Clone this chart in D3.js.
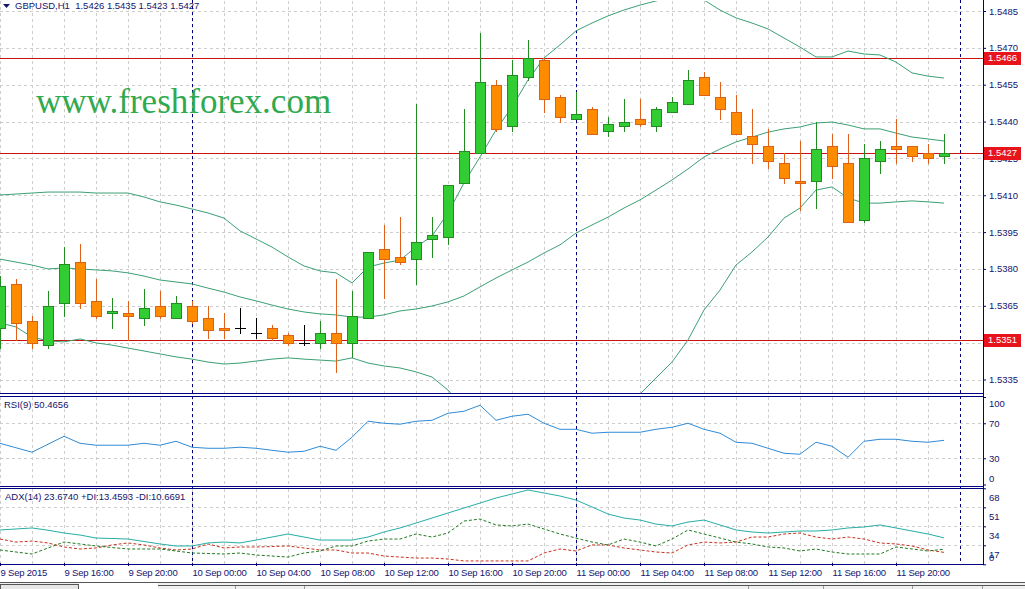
<!DOCTYPE html>
<html>
<head>
<meta charset="utf-8">
<script src="https://cdn.jsdelivr.net/npm/d3@7"></script>
<style>
  html, body { margin: 0; padding: 0; background: #fff; overflow: hidden; }
  svg { display: block; font-family: "Liberation Sans", Arial, sans-serif; }
</style>
</head>
<body>
<svg id="chart" width="1025" height="589"></svg>
<script>
// GBPUSD H1, one bar per hour starting 9 Sep 2015 12:00
const firstBar = Date.UTC(2015, 8, 9, 12);

const open = [1.5356,1.5374,1.5359,1.5349,1.5366,1.5383,1.5367,1.5362,1.5362,1.5360,
  1.5365,1.5360,1.5365,1.5360,1.5356,1.5356,1.5354,1.5356,1.5353,1.5350,
  1.5350,1.5354,1.5350,1.5360,1.5388,1.5385,1.5384,1.5392,1.5393,1.5415,
  1.5427,1.5455,1.5438,1.5458,1.5465,1.5450,1.5441,1.5445,1.5436,1.5438,
  1.5441,1.5438,1.5444,1.5447,1.5458,1.5450,1.5444,1.5434,1.5430,1.5423,
  1.5416,1.5416,1.5430,1.5423,1.5400,1.5424,1.5430,1.5430,1.5427,1.5426];
const high = [1.5377,1.5376,1.5361,1.5371,1.5389,1.5390,1.5376,1.5368,1.5367,1.5372,
  1.5371,1.5369,1.5367,1.5365,1.5362,1.5364,1.5360,1.5357,1.5354,1.5357,
  1.5359,1.5376,1.5371,1.5387,1.5398,1.5401,1.5447,1.5401,1.5414,1.5445,
  1.5476,1.5457,1.5465,1.5473,1.5466,1.5451,1.5452,1.5446,1.5442,1.5449,
  1.5449,1.5446,1.5450,1.5461,1.5460,1.5456,1.5451,1.5445,1.5437,1.5427,
  1.5432,1.5440,1.5435,1.5435,1.5431,1.5432,1.5441,1.5430,1.5431,1.5435];
const low = [1.5348,1.5351,1.5348,1.5348,1.5361,1.5364,1.5360,1.5356,1.5351,1.5357,
  1.5360,1.5360,1.5358,1.5352,1.5352,1.5354,1.5352,1.5351,1.5349,1.5349,
  1.5348,1.5338,1.5344,1.5360,1.5368,1.5382,1.5374,1.5385,1.5390,1.5415,
  1.5427,1.5436,1.5436,1.5457,1.5444,1.5440,1.5441,1.5435,1.5434,1.5436,
  1.5438,1.5436,1.5444,1.5447,1.5451,1.5441,1.5435,1.5423,1.5421,1.5415,
  1.5404,1.5405,1.5417,1.5399,1.5399,1.5419,1.5423,1.5424,1.5423,1.5423];
const close = [1.5373,1.5358,1.5350,1.5365,1.5382,1.5366,1.5361,1.5363,1.5361,1.5364,
  1.5361,1.5366,1.5359,1.5355,1.5355,1.5356,1.5354,1.5352,1.5350,1.5350,
  1.5354,1.5350,1.5361,1.5387,1.5384,1.5383,1.5391,1.5394,1.5414,1.5428,
  1.5456,1.5437,1.5459,1.5466,1.5449,1.5442,1.5443,1.5435,1.5439,1.5440,
  1.5439,1.5445,1.5448,1.5457,1.5451,1.5445,1.5435,1.5431,1.5424,1.5417,
  1.5415,1.5429,1.5422,1.5399,1.5425,1.5429,1.5429,1.5426,1.5425,1.5427];

// Bollinger bands
const bbUpper = [1.54101,1.54105,1.54109,1.54113,1.54113,1.54113,1.54109,1.54109,1.54109,1.54093,
  1.54073,1.54060,1.54044,1.54028,1.54007,1.53955,1.53922,1.53889,1.53849,1.53812,
  1.53792,1.53784,1.53743,1.53808,1.53824,1.53836,1.53889,1.53934,1.54028,1.54150,
  1.54256,1.54366,1.54459,1.54569,1.54659,1.54712,1.54769,1.54801,1.54830,1.54854,
  1.54874,1.54891,1.54903,1.54907,1.54895,1.54854,1.54822,1.54801,1.54777,1.54740,
  1.54703,1.54663,1.54663,1.54687,1.54675,1.54671,1.54642,1.54598,1.54585,1.54577];
const bbMiddle = [1.53840,1.53828,1.53816,1.53800,1.53804,1.53800,1.53796,1.53792,1.53784,1.53771,
  1.53755,1.53747,1.53739,1.53722,1.53706,1.53686,1.53670,1.53653,1.53637,1.53625,
  1.53617,1.53613,1.53604,1.53604,1.53613,1.53629,1.53637,1.53649,1.53666,1.53690,
  1.53727,1.53763,1.53796,1.53828,1.53865,1.53898,1.53946,1.53979,1.54011,1.54048,
  1.54081,1.54121,1.54162,1.54207,1.54256,1.54288,1.54317,1.54337,1.54357,1.54370,
  1.54378,1.54394,1.54398,1.54386,1.54370,1.54370,1.54353,1.54337,1.54329,1.54321];
const bbLower = [1.53580,1.53564,1.53523,1.53507,1.53503,1.53515,1.53499,1.53490,1.53478,1.53466,
  1.53454,1.53442,1.53433,1.53421,1.53413,1.53417,1.53425,1.53433,1.53438,1.53433,
  1.53429,1.53425,1.53438,1.53417,1.53405,1.53397,1.53381,1.53360,1.53307,1.53234,
  1.53197,1.53161,1.53132,1.53087,1.53071,1.53083,1.53124,1.53157,1.53193,1.53242,
  1.53291,1.53356,1.53421,1.53511,1.53633,1.53714,1.53816,1.53869,1.53930,1.54007,
  1.54048,1.54121,1.54134,1.54089,1.54068,1.54068,1.54073,1.54077,1.54073,1.54068];

const rsi = [47.1,42.0,36.9,46.0,55.1,47.1,44.9,44.9,44.9,47.1,
  44.9,49.4,42.6,41.4,41.4,42.6,41.4,39.1,36.9,38.0,
  43.7,39.1,54.0,72.3,70.0,68.9,72.3,73.4,81.4,83.7,
  90.6,73.4,78.0,80.3,70.0,63.1,63.1,58.6,59.7,59.7,
  59.7,63.1,65.4,70.0,63.1,58.6,48.3,47.1,41.4,35.7,
  34.6,48.3,43.7,31.1,49.4,51.7,51.7,49.4,48.3,50.47];

const adx = [30.7,31.6,32.5,30.5,28.0,26.2,23.5,23.1,22.6,20.4,
  18.2,16.4,16.4,19.1,19.9,19.1,21.7,24.4,27.1,24.4,
  21.7,21.7,21.7,24.4,28.9,32.5,36.9,41.4,45.9,50.4,
  54.8,59.3,62.9,66.5,63.8,61.1,57.5,51.3,45.0,41.4,
  39.6,36.0,34.3,37.8,39.6,35.2,30.7,28.9,28.0,28.9,
  29.8,29.8,30.7,32.5,33.4,35.2,32.5,29.8,27.1,23.67];
const plusDI = [12.8,11.0,9.2,14.6,19.9,18.2,16.4,15.0,13.7,13.7,
  13.7,11.9,10.1,9.7,9.2,10.1,8.3,7.4,6.5,10.1,
  11.9,16.4,16.4,20.8,22.6,22.6,27.1,24.4,28.0,38.7,
  40.5,35.2,34.3,36.0,31.6,27.1,23.5,19.9,17.3,22.6,
  19.9,16.4,22.6,30.7,27.1,23.5,19.9,18.2,15.5,14.6,
  11.9,13.7,11.0,9.2,9.2,9.2,15.5,13.7,11.9,13.46];
const minusDI = [22.6,19.9,20.8,19.1,15.5,13.7,14.6,17.3,19.1,17.3,
  14.6,12.8,13.7,18.2,14.6,15.5,15.5,15.9,16.4,14.6,
  12.8,12.8,10.1,10.1,7.4,6.5,5.6,5.6,4.7,3.0,
  3.0,3.0,3.0,3.0,10.1,13.7,11.9,17.3,17.3,14.6,
  12.8,11.0,10.1,17.3,19.9,19.1,19.9,24.4,24.4,27.1,
  28.0,24.4,22.6,24.4,22.6,19.1,18.2,16.4,12.8,10.67];

// horizontal levels drawn on the chart
const levels = [1.5466, 1.5427, 1.5351];

// axis ticks
const priceTicks = [1.5335,1.5350,1.5365,1.5380,1.5395,1.5410,1.5425,1.5440,1.5455,1.5470,1.5485];
const rsiTicks = [100, 70, 30, 0];
const rsiGrid = [70, 30];
const adxTicks = [68, 51, 34, 17, 0];
const adxGrid = [51, 34, 17];
const timeLabels = ['9 Sep 2015','9 Sep 16:00','9 Sep 20:00','10 Sep 00:00','10 Sep 04:00',
  '10 Sep 08:00','10 Sep 12:00','10 Sep 16:00','10 Sep 20:00','11 Sep 00:00',
  '11 Sep 04:00','11 Sep 08:00','11 Sep 12:00','11 Sep 16:00','11 Sep 20:00'];

const headerText = 'GBPUSD,H1  1.5426 1.5435 1.5423 1.5427';
const rsiText = 'RSI(9) 50.4656';
const adxText = 'ADX(14) 23.6740 +DI:13.4593 -DI:10.6691';

// ---------------------------------------------------------------
const W = 1025, H = 589;
const AXIS_X = 983;
const MAIN = {top: 0, bottom: 393};
const RSIP = {top: 396, bottom: 486};
const ADXP = {top: 488, bottom: 564};
const NAVY = '#14146e';
const GRID = '#cdcdcd';

const svg = d3.select('#chart');
const times = open.map((d, i) => d3.utcHour.offset(new Date(firstBar), i));

// 16px per hour, 12 Sep 00:00 at x = 960
const x = d3.scaleUtc()
    .domain([new Date(firstBar), d3.utcHour.offset(new Date(firstBar), 60)])
    .range([0, 960]);
const yPrice = d3.scaleLinear().domain([1.5335, 1.5485]).range([379.5, 11]);
const yRsi = d3.scaleLinear().domain([0, 100]).range([484.5, 397]);
const yAdx = d3.scaleLinear().domain([0, 68]).range([564.3, 488.3]);

svg.append('rect').attr('width', W).attr('height', H).attr('fill', '#fff');

const defs = svg.append('defs');
[['clip-main', MAIN], ['clip-rsi', RSIP], ['clip-adx', ADXP]].forEach(([id, p]) => {
    defs.append('clipPath').attr('id', id)
        .append('rect')
        .attr('x', 0).attr('y', p.top + 1)
        .attr('width', AXIS_X).attr('height', p.bottom - p.top - 1);
});

// grid -------------------------------------------------------------
const gridTimes = d3.utcHour.every(2).range(x.domain()[0], x.domain()[1]);
const panels = [
    {p: MAIN, scale: yPrice, values: priceTicks},
    {p: RSIP, scale: yRsi, values: rsiGrid},
    {p: ADXP, scale: yAdx, values: adxGrid}
];
panels.forEach(({p, scale, values}) => {
    let g = svg.append('g')
        .attr('stroke', GRID)
        .attr('stroke-dasharray', '3,3')
        .attr('shape-rendering', 'crispEdges');
    g.selectAll('.vgrid')
        .data(gridTimes)
        .enter()
        .append('line')
        .attr('x1', d => Math.round(x(d)) + 0.5)
        .attr('x2', d => Math.round(x(d)) + 0.5)
        .attr('y1', p.top + 1)
        .attr('y2', p.bottom);
    g.selectAll('.hgrid')
        .data(values)
        .enter()
        .append('line')
        .attr('x1', 0)
        .attr('x2', AXIS_X)
        .attr('y1', d => Math.round(scale(d)) + 0.5)
        .attr('y2', d => Math.round(scale(d)) + 0.5);
});

// day separators through every panel
const dayStarts = d3.utcDay.range(x.domain()[0], d3.utcHour.offset(x.domain()[1], 1));
svg.append('g')
    .selectAll('line')
    .data(dayStarts)
    .enter()
    .append('line')
    .attr('x1', d => Math.round(x(d)) + 0.5)
    .attr('x2', d => Math.round(x(d)) + 0.5)
    .attr('y1', 0)
    .attr('y2', ADXP.bottom)
    .attr('stroke', '#000080')
    .attr('stroke-dasharray', '3,3')
    .attr('shape-rendering', 'crispEdges');

// watermark
svg.append('text')
    .attr('x', 36)
    .attr('y', 113)
    .attr('font-family', '"Liberation Serif", "Times New Roman", serif')
    .attr('font-size', 35)
    .attr('fill', '#30a94f')
    .text('www.freshforex.com');

// main panel: levels, bands, candles ------------------------------
const mainG = svg.append('g').attr('clip-path', 'url(#clip-main)');

mainG.selectAll('.level')
    .data(levels)
    .enter()
    .append('line')
    .attr('x1', 0)
    .attr('x2', AXIS_X)
    .attr('y1', d => Math.round(yPrice(d)) + 0.5)
    .attr('y2', d => Math.round(yPrice(d)) + 0.5)
    .attr('stroke', '#cc1111')
    .attr('shape-rendering', 'crispEdges');

const bandLine = d3.line()
    .x((d, i) => x(times[i]))
    .y(d => yPrice(d));
mainG.selectAll('.band')
    .data([bbUpper, bbMiddle, bbLower])
    .enter()
    .append('path')
    .attr('d', bandLine)
    .attr('fill', 'none')
    .attr('stroke', '#3c9f74')
    .attr('stroke-width', 1);

const bars = times.map((t, i) => ({t, o: open[i], h: high[i], l: low[i], c: close[i]}));
const py = v => Math.round(yPrice(v));
const edgeColor = b => b.c === b.o ? '#000' : (b.c > b.o ? '#228b22' : '#e0601a');

let candles = mainG.selectAll('.candle')
    .data(bars)
    .enter()
    .append('g')
    .attr('shape-rendering', 'crispEdges');
// wicks
candles.append('line')
    .attr('x1', d => Math.round(x(d.t)) + 0.5)
    .attr('x2', d => Math.round(x(d.t)) + 0.5)
    .attr('y1', d => py(d.h))
    .attr('y2', d => py(d.l) + 1)
    .attr('stroke', edgeColor);
// bodies
candles.filter(d => d.c !== d.o)
    .append('rect')
    .attr('x', d => Math.round(x(d.t)) - 4.5)
    .attr('y', d => py(Math.max(d.o, d.c)) + 0.5)
    .attr('width', 10)
    .attr('height', d => Math.max(py(Math.min(d.o, d.c)) - py(Math.max(d.o, d.c)), 1))
    .attr('fill', d => d.c > d.o ? '#32cd32' : '#ff8c00')
    .attr('stroke', edgeColor);
// doji crosses
candles.filter(d => d.c === d.o)
    .append('line')
    .attr('x1', d => Math.round(x(d.t)) - 5)
    .attr('x2', d => Math.round(x(d.t)) + 6)
    .attr('y1', d => py(d.o) + 0.5)
    .attr('y2', d => py(d.o) + 0.5)
    .attr('stroke', '#000');

// RSI panel --------------------------------------------------------
svg.append('g').attr('clip-path', 'url(#clip-rsi)')
    .append('path')
    .datum(rsi)
    .attr('d', d3.line().x((d, i) => x(times[i])).y(d => yRsi(d)))
    .attr('fill', 'none')
    .attr('stroke', '#2f8bd6')
    .attr('stroke-width', 1);

// ADX panel --------------------------------------------------------
const adxG = svg.append('g').attr('clip-path', 'url(#clip-adx)');
const adxLine = d3.line().x((d, i) => x(times[i])).y(d => yAdx(d));
adxG.append('path').datum(minusDI).attr('d', adxLine)
    .attr('fill', 'none').attr('stroke', '#c8321e').attr('stroke-dasharray', '3,2');
adxG.append('path').datum(plusDI).attr('d', adxLine)
    .attr('fill', 'none').attr('stroke', '#1f7a1f').attr('stroke-dasharray', '3,2');
adxG.append('path').datum(adx).attr('d', adxLine)
    .attr('fill', 'none').attr('stroke', '#26aea6');

// panel frames -----------------------------------------------------
const frame = svg.append('g').attr('stroke', '#000080').attr('shape-rendering', 'crispEdges');
[MAIN.bottom, RSIP.top, RSIP.bottom, ADXP.top, ADXP.bottom].forEach(yy => {
    frame.append('line').attr('x1', 0).attr('x2', AXIS_X + 1).attr('y1', yy + 0.5).attr('y2', yy + 0.5);
});
frame.append('line')
    .attr('x1', AXIS_X + 0.5).attr('x2', AXIS_X + 0.5)
    .attr('y1', 0).attr('y2', ADXP.bottom + 1);

// axes -------------------------------------------------------------
function styleAxis(g, size) {
    g.select('.domain').remove();
    g.selectAll('.tick line').attr('stroke', '#000080');
    g.selectAll('.tick text')
        .attr('fill', NAVY)
        .attr('font-size', size)
        .attr('font-family', '"Liberation Sans", Arial, sans-serif');
}

let priceAxis = svg.append('g')
    .attr('transform', `translate(${AXIS_X}, 0)`)
    .call(d3.axisRight(yPrice).tickValues(priceTicks).tickFormat(d3.format('.4f')).tickSize(3).tickPadding(3));
styleAxis(priceAxis, 9.5);

let rsiAxis = svg.append('g')
    .attr('transform', `translate(${AXIS_X}, 0)`)
    .call(d3.axisRight(yRsi).tickValues(rsiTicks).tickSize(3).tickPadding(3));
styleAxis(rsiAxis, 9.5);
rsiAxis.selectAll('.tick text')
    .attr('y', d => Math.min(Math.max(yRsi(d), RSIP.top + 7), RSIP.bottom - 8) - yRsi(d));

let adxAxis = svg.append('g')
    .attr('transform', `translate(${AXIS_X}, 0)`)
    .call(d3.axisRight(yAdx).tickValues(adxTicks).tickSize(3).tickPadding(3));
styleAxis(adxAxis, 9.5);
adxAxis.selectAll('.tick text')
    .attr('y', d => Math.min(Math.max(yAdx(d) + 9, ADXP.top + 7), ADXP.bottom - 7) - yAdx(d));

const timeTicks = d3.utcHour.every(4).range(x.domain()[0], d3.utcHour.offset(x.domain()[1], -3));
let timeAxis = svg.append('g')
    .attr('transform', `translate(0, ${ADXP.bottom - 1})`)
    .call(d3.axisBottom(x).tickValues(timeTicks).tickFormat((d, i) => timeLabels[i]).tickSize(3).tickPadding(3));
styleAxis(timeAxis, 9.5);
timeAxis.attr('text-anchor', 'start');
timeAxis.selectAll('.tick text').attr('x', 0).attr('letter-spacing', -0.2);

// level price tags on the axis
let tags = svg.append('g')
    .selectAll('g')
    .data(levels)
    .enter()
    .append('g')
    .attr('transform', d => `translate(${AXIS_X + 1}, ${Math.round(yPrice(d))})`);
tags.append('rect')
    .attr('x', 0).attr('y', -6).attr('width', 37).attr('height', 13)
    .attr('fill', '#e8141c');
tags.append('text')
    .attr('x', 4).attr('y', 0).attr('dy', '0.35em')
    .attr('font-size', 9.5).attr('fill', '#fff')
    .text(d => d3.format('.4f')(d));

// titles -----------------------------------------------------------
svg.append('path').attr('d', 'M3,4 L10,4 L6.5,8 Z').attr('fill', NAVY);
svg.append('text').attr('x', 15).attr('y', 9).attr('font-size', 9.5).attr('fill', NAVY)
    .attr('xml:space', 'preserve').style('white-space', 'pre').text(headerText);
svg.append('text').attr('x', 4).attr('y', 408).attr('font-size', 9.5).attr('fill', NAVY).text(rsiText);
svg.append('text').attr('x', 5).attr('y', 500).attr('font-size', 9.5).attr('fill', NAVY).text(adxText);

// terminal tab strip at the bottom ----------------------------------
const tabG = svg.append('g').attr('shape-rendering', 'crispEdges');
tabG.append('rect').attr('x', 0).attr('y', 582).attr('width', W).attr('height', 7).attr('fill', '#f0f0f0');
tabG.append('line').attr('x1', 0).attr('x2', W).attr('y1', 582.5).attr('y2', 582.5).attr('stroke', '#555');
tabG.append('rect').attr('x', 0.5).attr('y', 584.5).attr('width', 78).attr('height', 6)
    .attr('fill', '#e6e6e6').attr('stroke', '#555');
tabG.append('rect').attr('x', 79).attr('y', 583).attr('width', 79).attr('height', 6).attr('fill', '#fff');
tabG.append('line').attr('x1', 158).attr('x2', W).attr('y1', 585.5).attr('y2', 585.5).attr('stroke', '#555');
[235, 304, 748, 823, 912, 982].forEach(sx => {
    tabG.append('line').attr('x1', sx + 0.5).attr('x2', sx + 0.5).attr('y1', 586).attr('y2', 589).attr('stroke', '#999');
});
</script>
</body>
</html>
